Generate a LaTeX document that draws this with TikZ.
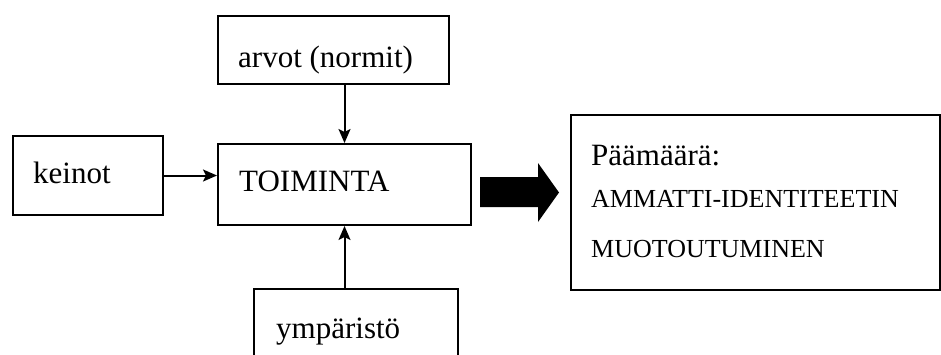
\documentclass[tikz,border=0pt]{standalone}
\usepackage{fontspec}
\setmainfont{Liberation Serif}
\usetikzlibrary{arrows.meta}

\tikzset{
  box/.style={draw, line width=2pt, inner sep=0pt, anchor=north west},
  lbl/.style={anchor=base west, inner sep=0pt, font=\fontsize{31}{37}\selectfont},
  small/.style={anchor=base west, inner sep=0pt, font=\fontsize{26}{31}\selectfont},
  link/.style={line width=2pt, -{Stealth[length=14pt, width=12pt, inset=3pt]}},
}

\begin{document}
\begin{tikzpicture}[x=1pt, y=-1pt]
  \useasboundingbox (0,0) rectangle (941,354);
  \begin{scope}
    \clip (0,0) rectangle (941,354);

    % boxes
    \node[box, minimum width=231pt, minimum height=68pt]  (arvot) at (217,15)  {};
    \node[box, minimum width=150pt, minimum height=79pt]  (keinot) at (12,135) {};
    \node[box, minimum width=253pt, minimum height=81pt]  (toim) at (217,143)  {};
    \node[box, minimum width=204pt, minimum height=90pt]  (ymp) at (253,288)   {};
    \node[box, minimum width=369pt, minimum height=175pt] (goal) at (570,114)  {};

    % texts
    \node[lbl] (arvotT)  at (238,67)  {arvot (normit)};
    \node[lbl] (keinotT) at (33,183)  {keinot};
    \node[lbl] (toimT)   at (239,191) {TOIMINTA};
    \node[lbl] (ympT)    at (276,338) {ympäristö};
    \node[lbl]   (goalA) at (591,165) {Päämäärä:};
    \node[small] (goalB) at (591,207) {AMMATTI-IDENTITEETIN};
    \node[small] (goalC) at (591,257) {MUOTOUTUMINEN};

    % connectors
    \draw[link] (toim.north |- arvot.south) -- (toim.north);
    \draw[link] (keinot.east) -- (keinot.east -| toim.west);
    \draw[link] (toim.south |- ymp.north) -- (toim.south);

    % block arrow towards the goal
    \fill (480,177) -- (538,177) -- (538,163) -- (559,192.5)
          -- (538,222) -- (538,207) -- (480,207) -- cycle;
  \end{scope}
\end{tikzpicture}
\end{document}
